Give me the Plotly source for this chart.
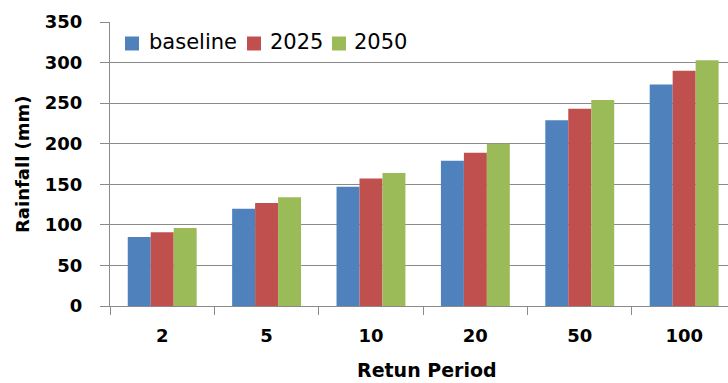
import plotly.graph_objects as go

# Return periods (years) and design rainfall depths (mm)
periods = ["2", "5", "10", "20", "50", "100"]
baseline = [85, 120, 147, 179, 229, 273]
rain_2025 = [91, 127, 157, 189, 243, 290]
rain_2050 = [96, 134, 164, 200, 254, 303]

series_names = ["baseline", "2025", "2050"]
series_colors = ["#4F81BD", "#C0504D", "#9BBB59"]
y_ticks = [0, 50, 100, 150, 200, 250, 300, 350]

W, H = 728, 383
M_L, M_R, M_T, M_B = 110, 0, 22, 77
PLOT_W = W - M_L - M_R
PLOT_H = H - M_T - M_B

GRID = "#8a8a8a"
TICK_FONT = dict(family="DejaVu Sans", size=18, color="#000000", weight="bold")


def paper_x(px):
    return (px - M_L) / PLOT_W


def paper_y(py):
    return (H - M_B - py) / PLOT_H


fig = go.Figure()
for name, values, color in zip(series_names, [baseline, rain_2025, rain_2050], series_colors):
    fig.add_trace(go.Bar(x=periods, y=values, name=name, marker=dict(color=color, line=dict(width=0))))

# Inline key across the top of the plot: swatch + label for each series
key_swatch_left = [125, 247, 332]
key_text_left = [147, 268, 352]
key_mid_y = 43.5
swatch = 14

shapes = []
annotations = []
for name, color, sx, tx in zip(series_names, series_colors, key_swatch_left, key_text_left):
    shapes.append(dict(
        type="rect", xref="paper", yref="paper",
        x0=paper_x(sx), x1=paper_x(sx + swatch),
        y0=paper_y(key_mid_y + swatch / 2), y1=paper_y(key_mid_y - swatch / 2),
        fillcolor=color, line=dict(width=0),
    ))
    annotations.append(dict(
        text=name, xref="paper", yref="paper",
        x=paper_x(tx), y=paper_y(key_mid_y - 1),
        xanchor="left", yanchor="middle", showarrow=False,
        font=dict(family="DejaVu Sans", size=21, color="#000000"),
    ))

annotations += [
    dict(
        text="Retun Period",
        xref="paper", yref="paper",
        x=paper_x(427), y=paper_y(370),
        xanchor="center", yanchor="middle",
        showarrow=False,
        font=dict(family="DejaVu Sans", size=19, color="#000000", weight="bold"),
    ),
    dict(
        text="Rainfall (mm)",
        xref="paper", yref="paper",
        x=paper_x(22), y=0.5,
        xanchor="center", yanchor="middle",
        textangle=-90,
        showarrow=False,
        font=dict(family="DejaVu Sans", size=18, color="#000000", weight="bold"),
    ),
]

fig.update_layout(
    width=W,
    height=H,
    margin=dict(l=M_L, r=M_R, t=M_T, b=M_B),
    paper_bgcolor="white",
    plot_bgcolor="white",
    barmode="group",
    bargap=0.34,
    bargroupgap=0,
    showlegend=False,
    xaxis=dict(
        type="category",
        range=[-0.5, 5.42],
        showgrid=False,
        showline=True,
        linecolor=GRID,
        linewidth=1,
        ticks="outside",
        tickson="boundaries",
        ticklen=8,
        tickcolor=GRID,
        tickfont=TICK_FONT,
        ticklabelstandoff=13,
    ),
    yaxis=dict(
        range=[0, 350],
        tickvals=y_ticks,
        showgrid=True,
        gridcolor=GRID,
        gridwidth=1,
        zeroline=False,
        showline=True,
        linecolor=GRID,
        linewidth=1,
        ticks="outside",
        ticklen=9,
        tickcolor=GRID,
        tickfont=TICK_FONT,
        ticklabelstandoff=14,
    ),
    shapes=shapes,
    annotations=annotations,
)

fig.write_html("out.html")
